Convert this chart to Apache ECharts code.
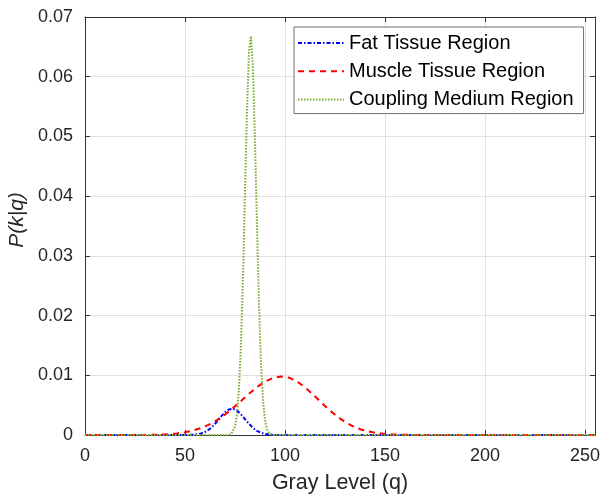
<!DOCTYPE html>
<html>
<head>
<meta charset="utf-8">
<script src="https://cdn.jsdelivr.net/npm/echarts@6/dist/echarts.min.js"></script>
<style>html,body{margin:0;padding:0;background:#fff}#c{width:608px;height:495px}</style>
</head>
<body>
<div id="c"></div>
<script>
// ---- data ----
const seriesNames = ['Fat Tissue Region', 'Muscle Tissue Region', 'Coupling Medium Region'];

const fatX = [0, 48, 50, 52, 54, 56, 58, 60, 62, 64, 66, 68, 70, 72, 73, 74, 76, 78, 80, 82, 84, 86, 88, 90, 92, 94, 96, 255];
const fatY = [0, 0, 0.000006, 0.00002, 0.00005, 0.00012, 0.00026, 0.00051, 0.00092, 0.00151, 0.00226, 0.00308, 0.00381, 0.00428, 0.00439, 0.00439, 0.00409, 0.00346, 0.00267, 0.00187, 0.00119, 0.00069, 0.00037, 0.00018, 0.00008, 0.00003, 0, 0];

const muscleX = [0, 26, 30, 34, 38, 42, 46, 50, 54, 58, 62, 66, 70, 74, 78, 82, 86, 90, 94, 98, 102, 106, 110, 114, 118, 122, 126, 130, 134, 138, 142, 146, 150, 154, 158, 162, 166, 170, 255];
const muscleY = [0, 0, 0.00002, 0.00004, 0.00008, 0.00015, 0.00027, 0.00046, 0.00074, 0.00116, 0.00173, 0.00249, 0.00342, 0.00451, 0.0057, 0.00691, 0.00803, 0.00895, 0.00957, 0.0098, 0.0096, 0.00897, 0.00799, 0.00678, 0.00549, 0.00424, 0.00312, 0.00219, 0.00146, 0.00093, 0.00057, 0.00033, 0.00018, 0.0001, 0.00005, 0.00002, 0.00001, 0, 0];

const couplingX = [0, 71, 72, 73, 74, 75, 76, 77, 78, 79, 80, 81, 82, 83, 84, 85, 86, 87, 88, 89, 90, 91, 92, 93, 94, 255];
const couplingY = [0, 0, 0.00003, 0.00015, 0.00048, 0.00138, 0.0035, 0.00784, 0.0154, 0.0267, 0.0406, 0.0545, 0.0643, 0.0668, 0.0611, 0.0492, 0.0349, 0.0218, 0.0119, 0.00578, 0.00246, 0.00092, 0.0003, 0.00009, 0, 0];

const xTicks = [0, 50, 100, 150, 200, 250];
const yTicks = [0, 0.01, 0.02, 0.03, 0.04, 0.05, 0.06, 0.07];
const xName = 'Gray Level (q)';
const yName = 'P(k|q)';

// ---- chart ----
const zip = (xs, ys) => xs.map((x, i) => [x, ys[i]]);
const FONT = "'Liberation Sans', Arial, Helvetica, sans-serif";
const TXT = '#262626';
const AX = '#333333';
const GRID = '#e0e0e0';

const chart = echarts.init(document.getElementById('c'), null, {renderer: 'canvas'});

const baseX = {
  type: 'value', min: xTicks[0], max: 255, interval: xTicks[1] - xTicks[0],
  axisLine: {show: true, onZero: false, lineStyle: {color: AX, width: 1}},
  axisTick: {show: true, inside: true, length: 5, lineStyle: {color: AX}},
  splitLine: {show: false}
};
const baseY = {
  type: 'value', min: yTicks[0], max: yTicks[yTicks.length - 1], interval: yTicks[1] - yTicks[0],
  axisLine: {show: true, onZero: false, lineStyle: {color: AX, width: 1}},
  axisTick: {show: true, inside: true, length: 5, lineStyle: {color: AX}},
  splitLine: {show: false}
};

chart.setOption({
  animation: false,
  backgroundColor: '#fff',
  textStyle: {fontFamily: FONT},
  grid: {left: 85, right: 13, top: 17, bottom: 60, containLabel: false, outerBoundsMode: 'none'},
  legend: {
    orient: 'vertical', left: 294, top: 27,
    itemWidth: 46, itemHeight: 14, itemGap: 8.3, itemTextGap: 4,
    padding: [6, 10, 4, 3],
    backgroundColor: '#fff', borderColor: '#6e6e6e', borderWidth: 1,
    itemStyle: {opacity: 0},
    textStyle: {fontSize: 20, color: '#000', fontFamily: FONT, lineHeight: 20},
    data: seriesNames
  },
  xAxis: [
    Object.assign({}, baseX, {
      position: 'bottom',
      axisLabel: {show: true, fontSize: 18, color: TXT, margin: 12, fontFamily: FONT, showMaxLabel: false,
        formatter: v => xTicks.indexOf(v) >= 0 ? String(v) : ''},
      splitLine: {show: true, lineStyle: {color: GRID, width: 1}},
      name: xName, nameLocation: 'middle', nameGap: 37,
      nameTextStyle: {fontSize: 21.5, color: TXT, fontFamily: FONT}
    }),
    Object.assign({}, baseX, {position: 'top', axisLabel: {show: false}})
  ],
  yAxis: [
    Object.assign({}, baseY, {
      position: 'left',
      axisLabel: {show: true, fontSize: 18, color: TXT, margin: 12, fontFamily: FONT},
      splitLine: {show: true, lineStyle: {color: GRID, width: 1}},
      name: yName, nameLocation: 'middle', nameGap: 57, nameMoveOverlap: false,
      nameTextStyle: {fontSize: 21, color: TXT, fontStyle: 'italic', fontFamily: FONT, padding: [8, 0, 0, 12]}
    }),
    Object.assign({}, baseY, {position: 'right', axisLabel: {show: false}})
  ],
  series: [
    {
      name: seriesNames[0], type: 'line', xAxisIndex: 0, yAxisIndex: 0,
      data: zip(fatX, fatY), showSymbol: false, symbol: 'none', z: 3,
      lineStyle: {color: '#0000ff', width: 2, type: [4, 2, 1.5, 2]},
      itemStyle: {color: '#0000ff'}
    },
    {
      name: seriesNames[1], type: 'line', xAxisIndex: 0, yAxisIndex: 0,
      data: zip(muscleX, muscleY), showSymbol: false, symbol: 'none', z: 4,
      lineStyle: {color: '#ff0000', width: 2, type: [6, 5]},
      itemStyle: {color: '#ff0000'}
    },
    {
      name: seriesNames[2], type: 'line', xAxisIndex: 0, yAxisIndex: 0,
      data: zip(couplingX, couplingY), showSymbol: false, symbol: 'none', z: 5,
      lineStyle: {color: '#77ac30', width: 2, type: [1.5, 1.5]},
      itemStyle: {color: '#77ac30'}
    }
  ]
});
</script>
</body>
</html>
